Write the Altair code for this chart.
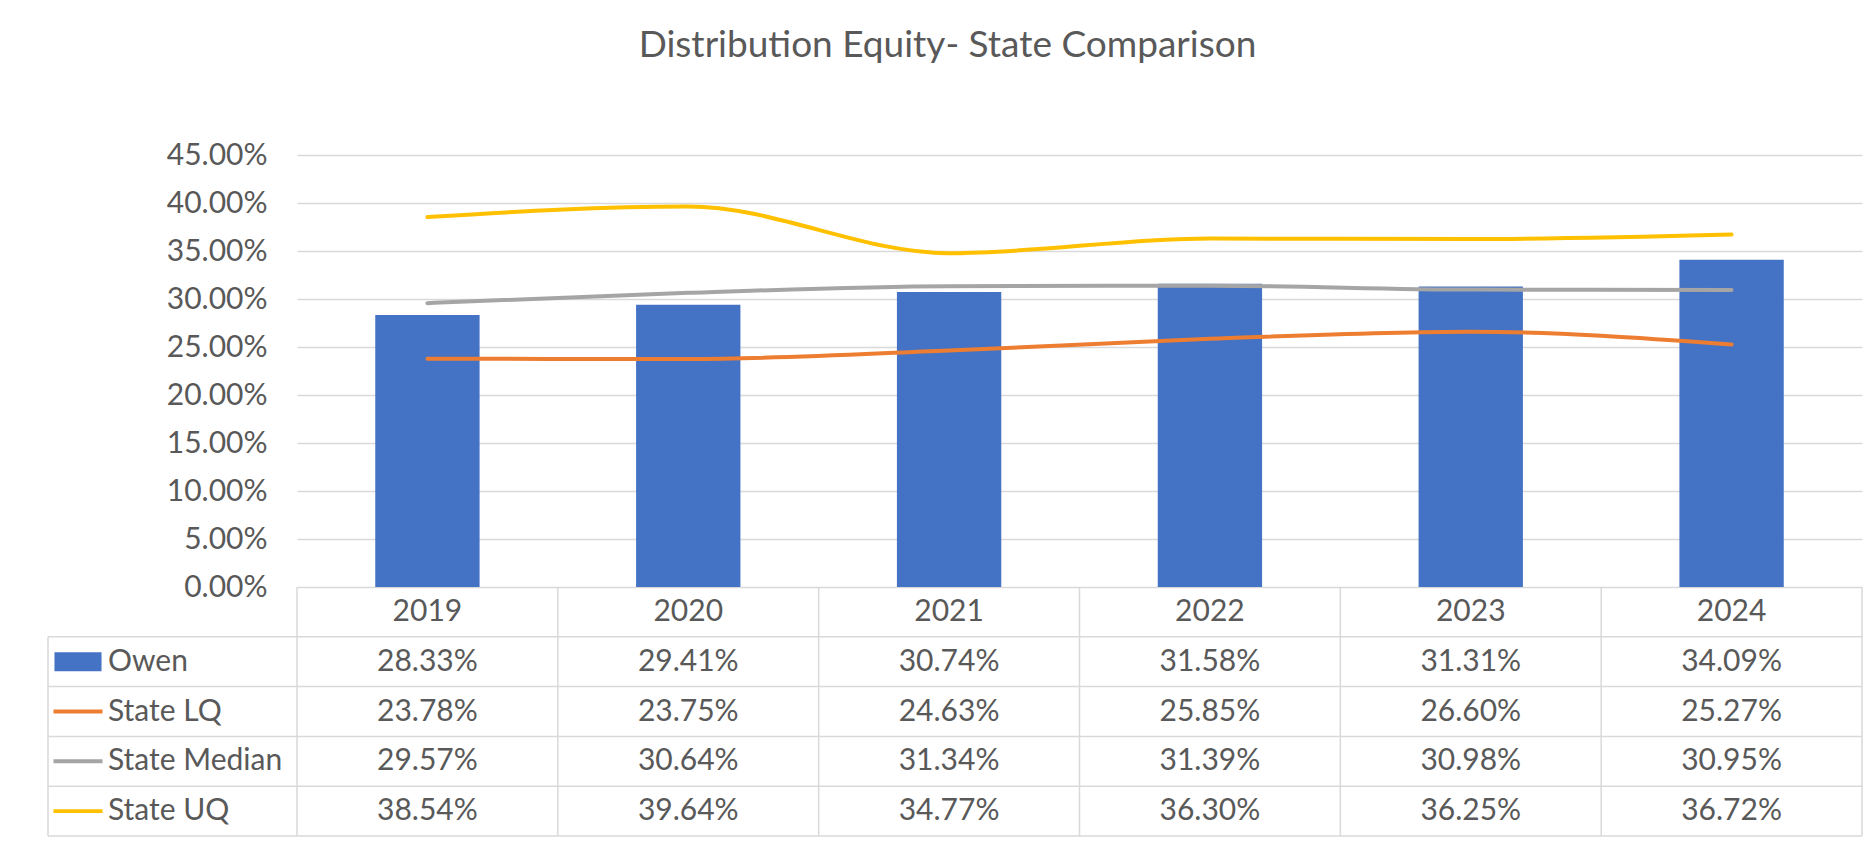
import altair as alt
import pandas as pd

# ---------------- data ----------------
years = ["2019", "2020", "2021", "2022", "2023", "2024"]
series_names = ["Owen", "State LQ", "State Median", "State UQ"]
owen = [28.33, 29.41, 30.74, 31.58, 31.31, 34.09]
state_lq = [23.78, 23.75, 24.63, 25.85, 26.60, 25.27]
state_median = [29.57, 30.64, 31.34, 31.39, 30.98, 30.95]
state_uq = [38.54, 39.64, 34.77, 36.30, 36.25, 36.72]
y_ticks = [0, 5, 10, 15, 20, 25, 30, 35, 40, 45]
title_text = "Distribution Equity- State Comparison"

# ---------------- style ----------------
series_colors = ["#4472C4", "#ED7D31", "#A5A5A5", "#FFC000"]
swatch_paths = [
    "M-0.96,-0.39H0.96V0.39H-0.96Z",
    "M-1,-0.08H1V0.08H-1Z",
    "M-1,-0.08H1V0.08H-1Z",
    "M-1,-0.08H1V0.08H-1Z",
]
W, H = 1565, 432
ROW_PX = 49.8
N_ROWS = 5
LABEL_COL = 249
FONT = "Lato"
TEXT_COLOR = "#595959"
GRID_COLOR = "#D9D9D9"
FS = 30

# ---------------- tables ----------------
values_by_series = [owen, state_lq, state_median, state_uq]
recs = []
for r, (name, vals) in enumerate(zip(series_names, values_by_series), start=1):
    for yr, v in zip(years, vals):
        recs.append({"year": yr, "series": name, "value": v, "row": r,
                     "row_mid": r + 0.5, "label": f"{v:.2f}%"})
df = pd.DataFrame(recs)
header_df = pd.DataFrame({"year": years, "row_mid": [0.5] * len(years)})
labels_df = pd.DataFrame({"series": series_names,
                          "row_mid": [i + 1.5 for i in range(len(series_names))]})
vrules_df = pd.DataFrame({"year": years, "y0": [0] * len(years), "y1": [N_ROWS] * len(years)})
right_df = pd.DataFrame({"year": [years[-1]], "y0": [0], "y1": [N_ROWS]})
left_df = pd.DataFrame({"y0": [1], "y1": [N_ROWS]})
hrules_df = pd.DataFrame({"y": list(range(1, N_ROWS + 1))})

# ---------------- scales ----------------
x_scale = alt.Scale(domain=years, paddingInner=0, paddingOuter=0)
y_scale = alt.Scale(domain=[0, 45], nice=False, zero=True)
t_scale = alt.Scale(domain=[0, N_ROWS], range=[H, H + N_ROWS * ROW_PX], nice=False, zero=False)
c_scale = alt.Scale(domain=series_names, range=series_colors)
s_scale = alt.Scale(domain=series_names, range=swatch_paths)

X = alt.X("year:N", scale=x_scale, axis=None)

bars = alt.Chart(df[df.series == "Owen"]).mark_bar(
    width=alt.RelativeBandSize(band=0.4)
).encode(
    x=X,
    y=alt.Y("value:Q", scale=y_scale, axis=alt.Axis(
        values=y_ticks, labelExpr="format(datum.value, '.2f') + '%'",
        grid=True, gridColor=GRID_COLOR, gridWidth=1.5,
        domain=False, ticks=False, title=None,
        labelFont=FONT, labelFontSize=FS, labelColor=TEXT_COLOR, labelPadding=30)),
    color=alt.Color("series:N", scale=c_scale, legend=None),
)

lines = alt.Chart(df[df.series != "Owen"]).mark_line(
    strokeWidth=4, interpolate="monotone", strokeCap="round"
).encode(
    x=X,
    y=alt.Y("value:Q", scale=y_scale, axis=None),
    color=alt.Color("series:N", scale=c_scale, legend=None),
    detail="series:N",
)

cells = alt.Chart(df).mark_text(
    font=FONT, fontSize=FS, color=TEXT_COLOR, baseline="middle", align="center"
).encode(
    x=X,
    y=alt.Y("row_mid:Q", scale=t_scale, axis=None),
    text="label:N",
)

header = alt.Chart(header_df).mark_text(
    font=FONT, fontSize=FS, color=TEXT_COLOR, baseline="middle", align="center"
).encode(
    x=X,
    y=alt.Y("row_mid:Q", scale=t_scale, axis=None),
    text="year:N",
)

row_labels = alt.Chart(labels_df).mark_text(
    font=FONT, fontSize=FS, color=TEXT_COLOR, baseline="middle", align="left"
).encode(
    x=alt.value(-189),
    y=alt.Y("row_mid:Q", scale=t_scale, axis=None),
    text="series:N",
)

swatches = alt.Chart(labels_df).mark_point(
    filled=True, opacity=1, size=2401, strokeWidth=0
).encode(
    x=alt.value(-219),
    y=alt.Y("row_mid:Q", scale=t_scale, axis=None),
    color=alt.Color("series:N", scale=c_scale, legend=None),
    shape=alt.Shape("series:N", scale=s_scale, legend=None),
)

rule_style = dict(color=GRID_COLOR, strokeWidth=1.5)
vrules = alt.Chart(vrules_df).mark_rule(**rule_style).encode(
    x=alt.X("year:N", scale=x_scale, axis=None, bandPosition=0),
    y=alt.Y("y0:Q", scale=t_scale, axis=None),
    y2="y1:Q",
)
vright = alt.Chart(right_df).mark_rule(**rule_style).encode(
    x=alt.X("year:N", scale=x_scale, axis=None, bandPosition=1),
    y=alt.Y("y0:Q", scale=t_scale, axis=None),
    y2="y1:Q",
)
vleft = alt.Chart(left_df).mark_rule(**rule_style).encode(
    x=alt.value(-LABEL_COL),
    y=alt.Y("y0:Q", scale=t_scale, axis=None),
    y2="y1:Q",
)
hrules = alt.Chart(hrules_df).mark_rule(**rule_style).encode(
    x=alt.value(-LABEL_COL),
    x2=alt.value(W),
    y=alt.Y("y:Q", scale=t_scale, axis=None),
)

chart = alt.layer(
    bars, lines, vrules, vright, vleft, hrules, cells, header, swatches, row_labels
).resolve_scale(
    y="independent"
).properties(
    width=W, height=H,
    padding={"left": 289, "top": 147, "right": 5, "bottom": 250},
    autosize=alt.AutoSizeParams(type="none"),
    title=alt.TitleParams(
        text=title_text, font=FONT, fontSize=37, fontWeight="normal",
        color=TEXT_COLOR, anchor="middle", frame="group", dx=-132,
        baseline="alphabetic", offset=46,
    ),
).configure_view(strokeWidth=0)

chart.save("out.html", embed_options={"renderer": "svg", "actions": False})
